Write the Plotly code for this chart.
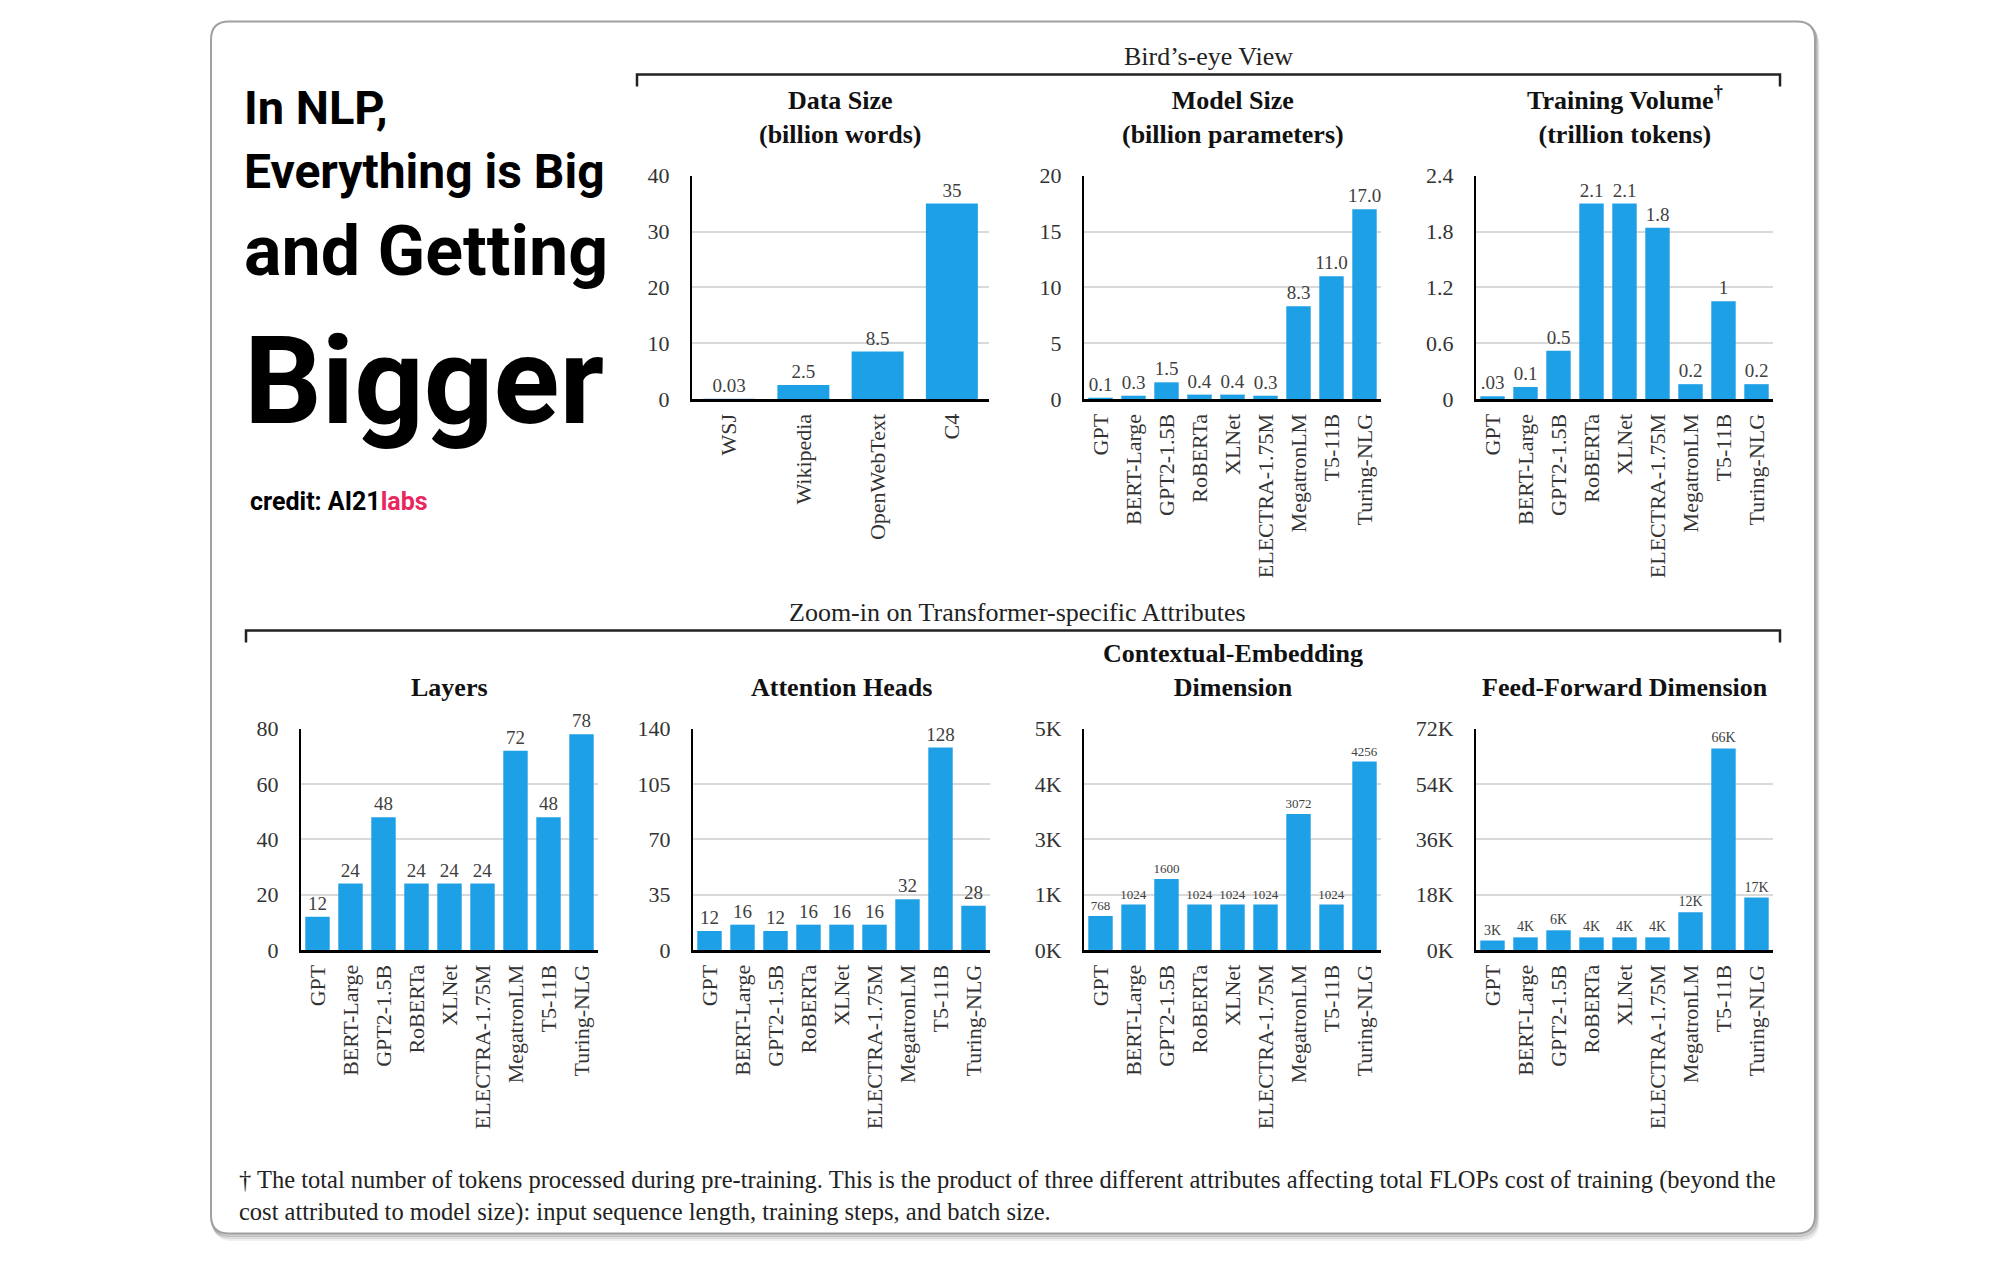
import plotly.graph_objects as go

# ---- data ----
data_sources = ["WSJ", "Wikipedia", "OpenWebText", "C4"]
data_size = [0.03, 2.5, 8.5, 35]
data_size_labels = ["0.03", "2.5", "8.5", "35"]

models = ["GPT", "BERT-Large", "GPT2-1.5B", "RoBERTa", "XLNet",
          "ELECTRA-1.75M", "MegatronLM", "T5-11B", "Turing-NLG"]

model_size = [0.1, 0.3, 1.5, 0.4, 0.4, 0.3, 8.3, 11.0, 17.0]
model_size_labels = ["0.1", "0.3", "1.5", "0.4", "0.4", "0.3", "8.3", "11.0", "17.0"]

training_volume = [0.03, 0.13, 0.52, 2.1, 2.1, 1.84, 0.16, 1.05, 0.16]
training_volume_labels = [".03", "0.1", "0.5", "2.1", "2.1", "1.8", "0.2", "1", "0.2"]

layers = [12, 24, 48, 24, 24, 24, 72, 48, 78]
attention_heads = [12, 16, 12, 16, 16, 16, 32, 128, 28]
embedding_dim = [768, 1024, 1600, 1024, 1024, 1024, 3072, 1024, 4256]
ff_dim = [3072, 4096, 6400, 4096, 4096, 4096, 12288, 65536, 17024]
ff_dim_labels = ["3K", "4K", "6K", "4K", "4K", "4K", "12K", "66K", "17K"]

data_ticks = [0, 10, 20, 30, 40]
model_ticks = [0, 5, 10, 15, 20]
training_ticks = [0, 0.6, 1.2, 1.8, 2.4]
training_tick_text = ["0", "0.6", "1.2", "1.8", "2.4"]
layer_ticks = [0, 20, 40, 60, 80]
head_ticks = [0, 35, 70, 105, 140]
embedding_ticks = [0, 1250, 2500, 3750, 5000]
embedding_tick_text = ["0K", "1K", "3K", "4K", "5K"]
ff_ticks = [0, 18000, 36000, 54000, 72000]
ff_tick_text = ["0K", "18K", "36K", "54K", "72K"]

OFF = 8  # page body margin; figure is sized so the page is exactly 2000x1270
W, H = 2000 - 2 * OFF, 1270 - 2 * OFF
BLUE = "#1ea0e6"
SERIF = "Liberation Serif, Times New Roman, serif"
HEAD = "Roboto, Liberation Sans, sans-serif"


# positions below are screen pixels of the 2000x1270 window
def px(x):
    return (x - OFF) / W


def py(y):
    # small vertical stretch about the middle, fitted against the reference
    y = y * 1.022 - 13
    return 1 - (y - OFF) / H


TOP = (176, 399)
BOTTOM = (728, 949)

# panel: (title, categories, values, labels, tickvals, ticktext, x-domain px, y-domain px, label size, bar width)
panels = [
    ("Data Size<br>(billion words)", data_sources, data_size, data_size_labels,
     data_ticks, None, (692, 989), TOP, 19, 0.70),
    ("Model Size<br>(billion parameters)", models, model_size, model_size_labels,
     model_ticks, None, (1084, 1381), TOP, 19, 0.74),
    ("Training Volume<sup>†</sup><br>(trillion tokens)", models, training_volume, training_volume_labels,
     training_ticks, training_tick_text, (1476, 1773), TOP, 19, 0.74),
    ("Layers", models, layers, [str(v) for v in layers],
     layer_ticks, None, (301, 598), BOTTOM, 19, 0.74),
    ("Attention Heads", models, attention_heads, [str(v) for v in attention_heads],
     head_ticks, None, (693, 990), BOTTOM, 19, 0.74),
    ("Contextual-Embedding<br>Dimension", models, embedding_dim, [str(v) for v in embedding_dim],
     embedding_ticks, embedding_tick_text, (1084, 1381), BOTTOM, 13, 0.74),
    ("Feed-Forward Dimension", models, ff_dim, ff_dim_labels,
     ff_ticks, ff_tick_text, (1476, 1773), BOTTOM, 14, 0.74),
]

fig = go.Figure()
annotations = []

for i, (title, cats, vals, labels, tvals, ttext, xd, yd, lsize, bw) in enumerate(panels):
    n = "" if i == 0 else str(i + 1)
    fig.add_trace(go.Bar(
        x=cats, y=vals, text=labels, textposition="outside",
        textfont=dict(family=SERIF, size=lsize, color="#404040"),
        constraintext="none", cliponaxis=False, width=bw,
        marker=dict(color=BLUE, line=dict(width=0)),
        xaxis="x" + n, yaxis="y" + n, showlegend=False, hoverinfo="x+y",
    ))
    fig.layout["xaxis" + n] = dict(
        domain=[px(xd[0]), px(xd[1])], anchor="y" + n,
        showline=True, linecolor="black", linewidth=3,
        showgrid=False, tickangle=-90, ticks="outside", ticklen=3,
        tickcolor="rgba(0,0,0,0)",
        tickfont=dict(family=SERIF, size=22, color="#333333"),
        fixedrange=True,
    )
    fig.layout["yaxis" + n] = dict(
        domain=[py(yd[1]), py(yd[0])], anchor="x" + n,
        range=[0, tvals[-1]], tickvals=tvals, ticktext=ttext,
        showline=True, linecolor="black", linewidth=2,
        showgrid=True, gridcolor="#d9d9d9", gridwidth=2, zeroline=False,
        ticks="outside", ticklen=16, tickcolor="rgba(0,0,0,0)",
        tickfont=dict(family=SERIF, size=22, color="#333333"),
        fixedrange=True,
    )
    # panel title, its last line sits just above the plot
    annotations.append(dict(
        text="<b>" + title + "</b>", x=px((xd[0] + xd[1]) / 2), y=py(yd[0] - 25),
        xref="paper", yref="paper", xanchor="center", yanchor="bottom",
        showarrow=False, font=dict(family=SERIF, size=26, color="#111111"),
    ))

# section headers
annotations.append(dict(text="Bird’s-eye View", x=px(1208), y=py(57), xref="paper", yref="paper",
                        xanchor="center", yanchor="middle", showarrow=False,
                        font=dict(family=SERIF, size=26, color="#222222")))
annotations.append(dict(text="Zoom-in on Transformer-specific Attributes", x=px(1017), y=py(612),
                        xref="paper", yref="paper", xanchor="center", yanchor="middle", showarrow=False,
                        font=dict(family=SERIF, size=26, color="#222222")))

# big headline on the left
headline = [("In NLP,", 47, 108), ("Everything is Big", 48, 172),
            ("and Getting", 70, 251), ("Bigger", 122, 381)]
for txt, size, yc in headline:
    annotations.append(dict(text=txt, x=px(242), y=py(yc), xref="paper", yref="paper",
                            xanchor="left", yanchor="middle", showarrow=False,
                            font=dict(family=HEAD, size=size, color="black", weight=700)))
annotations.append(dict(text="credit: AI21<span style='color:#e8275f'>labs</span>",
                        x=px(248), y=py(501), xref="paper", yref="paper",
                        xanchor="left", yanchor="middle", showarrow=False,
                        font=dict(family=HEAD, size=25, color="black", weight=700)))

# footnote
annotations.append(dict(
    text="† The total number of tokens processed during pre-training. This is the product of three different "
         "attributes affecting total FLOPs cost of training (beyond the<br>cost attributed to model size): "
         "input sequence length, training steps, and batch size.",
    x=px(237), y=py(1195), xref="paper", yref="paper", xanchor="left", yanchor="middle",
    align="left", showarrow=False, font=dict(family=SERIF, size=24.5, color="#222222")))


def rounded_rect(x0, y0, x1, y1, r):
    pts = [
        f"M {px(x0 + r)},{py(y0)}", f"L {px(x1 - r)},{py(y0)}",
        f"Q {px(x1)},{py(y0)} {px(x1)},{py(y0 + r)}", f"L {px(x1)},{py(y1 - r)}",
        f"Q {px(x1)},{py(y1)} {px(x1 - r)},{py(y1)}", f"L {px(x0 + r)},{py(y1)}",
        f"Q {px(x0)},{py(y1)} {px(x0)},{py(y1 - r)}", f"L {px(x0)},{py(y0 + r)}",
        f"Q {px(x0)},{py(y0)} {px(x0 + r)},{py(y0)}", "Z",
    ]
    return " ".join(pts)


shapes = []
# soft shadow under the card
for k, op in [(6, 0.06), (4, 0.10), (2, 0.18)]:
    shapes.append(dict(type="path", xref="paper", yref="paper", layer="below",
                       path=rounded_rect(211 + k / 2, 22 + k, 1815 + k / 2, 1232 + k, 18),
                       line=dict(color=f"rgba(0,0,0,{op})", width=3)))
shapes.append(dict(type="path", xref="paper", yref="paper", layer="below",
                   path=rounded_rect(211, 22, 1815, 1232, 18),
                   line=dict(color="#a0a0a0", width=2), fillcolor="white"))

# brackets
shapes.append(dict(type="path", xref="paper", yref="paper",
                   path=f"M {px(637)},{py(87)} L {px(637)},{py(75)} L {px(1780)},{py(75)} L {px(1780)},{py(87)}",
                   line=dict(color="#222222", width=2.5)))
shapes.append(dict(type="path", xref="paper", yref="paper",
                   path=f"M {px(246)},{py(642)} L {px(246)},{py(630)} L {px(1780)},{py(630)} L {px(1780)},{py(642)}",
                   line=dict(color="#222222", width=2.5)))

fig.update_layout(
    width=W, height=H, margin=dict(l=0, r=0, t=0, b=0),
    paper_bgcolor="white", plot_bgcolor="rgba(0,0,0,0)",
    annotations=annotations, shapes=shapes, showlegend=False,
)

fig.write_html("out.html")
